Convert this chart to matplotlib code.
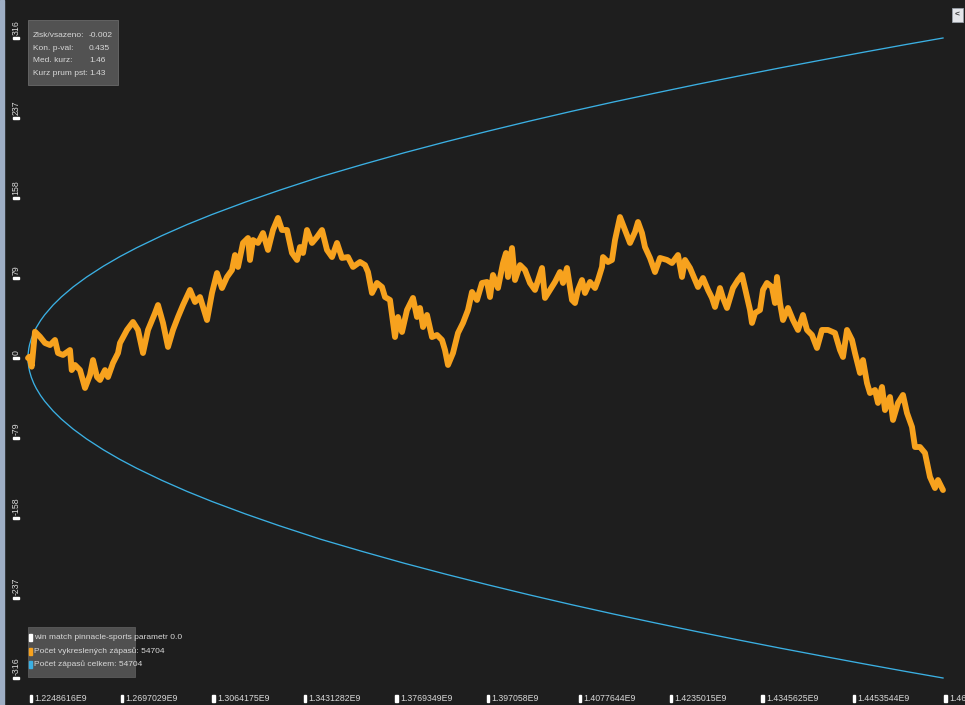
import matplotlib
matplotlib.use("Agg")
import matplotlib.pyplot as plt
from matplotlib.patches import Rectangle

# ---------------- data ----------------
n_total = 54704
profit_idx = [0, 78, 221, 418, 717, 1016, 1315, 1614, 1794, 2092, 2511, 2613, 2810, 3109, 3408,
              3707, 3886, 4125, 4305, 4603, 4783, 5082, 5381, 5500, 5919, 6277, 6576, 6875, 7174,
              7593, 7772, 8071, 8370, 8669, 8968, 9267, 9685, 9984, 10283, 10702, 11000, 11299,
              11598, 11897, 12196, 12375, 12555, 12854, 13153, 13272, 13452, 13751, 14049, 14348,
              14647, 14946, 15185, 15484, 15783, 16082, 16262, 16441, 16680, 16979, 17278, 17577,
              17876, 18175, 18474, 18772, 19131, 19430, 19849, 20148, 20327, 20566, 20865, 21164,
              21343, 21642, 21941, 22120, 22360, 22659, 23017, 23256, 23436, 23615, 23854, 24153,
              24452, 24751, 24930, 25110, 25409, 25708, 26006, 26305, 26545, 26843, 27142, 27441,
              27621, 27800, 28099, 28398, 28577, 28697, 28936, 29115, 29414, 29713, 30012, 30311,
              30730, 30909, 31208, 31507, 31806, 31985, 32224, 32523, 32702, 32882, 33121, 33300,
              33599, 33898, 34077, 34317, 34376, 34675, 34914, 35094, 35393, 35692, 35991, 36289,
              36469, 36708, 36887, 37186, 37485, 37784, 38203, 38502, 38860, 39099, 39279, 39578,
              39877, 40056, 40355, 40654, 40893, 41072, 41371, 41551, 41790, 42148, 42447, 42686,
              42866, 43165, 43284, 43464, 43763, 43942, 44181, 44480, 44659, 44779, 44958, 45137,
              45437, 45736, 46034, 46333, 46573, 46871, 47170, 47469, 47828, 48246, 48545, 48725,
              48964, 49263, 49442, 49741, 49920, 50160, 50339, 50638, 50817, 51056, 51236, 51535,
              51714, 52013, 52312, 52551, 52850, 53029, 53328, 53627, 53926, 54225, 54404, 54704]
profit_val = [0, 1.3, -8.6, 26.0, 21.0, 14.8, 12.8, 17.8, 4.9, 3.0, 7.9, -11.9, -6.9, -11.9, -29.6,
              -16.8, -2.0, -18.8, -21.7, -11.9, -18.8, -4.9, 4.9, 14.8, 27.7, 35.6, 27.7, 4.9, 27.7,
              44.4, 52.3, 34.6, 10.9, 27.7, 40.5, 52.3, 67.2, 55.3, 60.2, 37.5, 64.2, 83.9,
              69.1, 80.0, 86.9, 101.7, 89.9, 113.6, 118.5, 96.8, 116.5, 113.6, 123.4, 106.7,
              126.4, 138.3, 126.4, 126.4, 103.7, 96.8, 109.6, 103.7, 126.4, 113.6, 119.5, 126.4,
              106.7, 99.7, 113.6, 98.8, 99.7, 89.9, 94.8, 91.8, 84.9, 64.2, 74.1, 70.1,
              60.2, 57.3, 20.7, 40.5, 25.7, 47.4, 59.3, 40.5, 49.4, 30.6, 42.5, 20.7,
              22.7, 17.8, 7.9, -6.9, 4.9, 24.7, 34.6, 47.4, 65.2, 57.3, 74.1, 75.1,
              60.2, 82.0, 69.1, 93.8, 103.7, 80.0, 108.6, 77.0, 91.8, 86.9, 74.1, 67.2,
              88.9, 59.3, 67.2, 75.1, 84.9, 74.1, 88.9, 57.3, 54.3, 67.2, 77.0, 64.2,
              75.1, 69.1, 77.0, 89.9, 99.7, 94.8, 96.8, 116.5, 139.2, 126.4, 113.6, 124.4,
              134.3, 123.4, 109.6, 98.8, 84.9, 98.8, 96.8, 93.8, 101.7, 80.0, 96.8, 88.9,
              77.0, 70.1, 79.0, 67.2, 59.3, 50.4, 69.1, 59.3, 49.4, 69.1, 77.0, 82.0,
              69.1, 47.4, 34.6, 44.4, 47.4, 67.2, 74.1, 70.1, 54.3, 80.0, 54.3, 37.5,
              49.4, 37.5, 27.7, 42.5, 27.7, 22.7, 9.9, 27.7, 27.7, 24.7, 7.9, 1.0,
              27.7, 17.8, 4.9, -14.8, -2.0, -24.7, -34.6, -31.6, -44.4, -28.6, -51.4, -38.5,
              -61.2, -44.4, -36.5, -54.3, -68.1, -87.9, -87.9, -93.8, -117.5, -128.4, -120.5, -130.4]

bound_idx = [0, 10, 50, 100, 200, 350, 500, 750, 1000, 1500, 2000, 2700, 3500, 4500, 5500, 6500,
             8000, 9500, 11000, 13000, 15000, 17500, 20000, 22500, 25000, 27500, 30000, 32500,
             35000, 37500, 40000, 42500, 45000, 47500, 50000, 52500, 54704]
bound_val = [0, 4.3, 9.6, 13.5, 19.1, 25.3, 30.2, 37.0, 42.7, 52.3, 60.4, 70.2, 79.9, 90.6, 100.2,
             108.9, 120.8, 131.7, 141.7, 154.0, 165.5, 179.0, 191.1, 202.7, 213.6, 224.0, 234.0,
             243.6, 252.8, 261.6, 270.2, 278.5, 286.6, 294.4, 302.1, 309.6, 316.0]

y_ticks = [-316, -237, -158, -79, 0, 79, 158, 237, 316]
x_ticks = [i * n_total / 10 for i in range(11)]
x_tick_labels = ["1.2248616E9", "1.2697029E9", "1.3064175E9", "1.3431282E9", "1.3769349E9",
                 "1.397058E9", "1.4077644E9", "1.4235015E9", "1.4345625E9", "1.4453544E9",
                 "1.461"]

stats_labels = ["Zisk/vsazeno:", "Kon. p-val:", "Med. kurz:", "Kurz prum pst:"]
stats_values = ["-0.002", "0.435", "1.46", "1.43"]

legend_labels = ["win match pinnacle-sports parametr 0.0",
                 "Počet vykreslených zápasů: 54704",
                 "Počet zápasů celkem: 54704"]

# ---------------- style ----------------
W, H = 965, 705
BG = "#1e1e1e"
ORANGE = "#f7a21e"
BLUE = "#3bb0e3"
TXT = "#d8d8d8"
FONT = ["Liberation Sans Narrow", "Liberation Sans", "DejaVu Sans"]

fig = plt.figure(figsize=(W / 100, H / 100), dpi=100, facecolor=BG)
ax = fig.add_axes([0, 0, 1, 1])
ax.set_facecolor(BG)
ax.axis("off")

# pixel mapping: idx 0 -> px 28, n_total -> px 943 ; val 0 -> py 358, 316 -> py 38
sx = 915 / n_total
sy = 320 / 316
ax.set_xlim(-28 / sx, (W - 28) / sx)
ax.set_ylim(-(H - 358) / sy, 358 / sy)

def px(x, y):
    return (x / W, 1 - y / H)

# bounds
ax.plot(bound_idx, bound_val, color=BLUE, lw=0.95, solid_joinstyle="round")
ax.plot(bound_idx, [-v for v in bound_val], color=BLUE, lw=0.95, solid_joinstyle="round")
# profit line
ax.plot(profit_idx, profit_val, color=ORANGE, lw=4.2, solid_joinstyle="round",
        solid_capstyle="round")

# window chrome fragments
fig.patches.append(Rectangle(px(0, H), 4 / W, 1, transform=fig.transFigure,
                             color="#9eaec4", zorder=0.5))
fig.patches.append(Rectangle(px(952, 22), 11 / W, 14 / H, transform=fig.transFigure,
                             facecolor="#e4e6ea", edgecolor="#9aa0a8", lw=0.6, zorder=5))
fig.text(*px(957.5, 15), "<", color="#333333", fontsize=6, ha="center", va="center",
         family=FONT, fontweight="bold", zorder=6)

# y axis ticks (rotated labels)
for v in y_ticks:
    yp = 358 - v * sy
    fig.patches.append(Rectangle(px(13, yp + 1.2), 6 / W, 2.4 / H, transform=fig.transFigure,
                                 color="white", zorder=4))
    fig.text(*px(16, yp - 3), str(v), rotation=90, color=TXT, fontsize=6.3,
             ha="center", va="bottom", family=FONT, zorder=4)

# x axis ticks
for xv, lab in zip(x_ticks, x_tick_labels):
    xp = 28 + xv * sx + 1.5
    fig.patches.append(Rectangle(px(xp, 701.5), 2.2 / W, 7 / H, transform=fig.transFigure,
                                 color="white", zorder=4))
    fig.text(*px(xp + 4.5, 698.5), lab, color=TXT, fontsize=6.3, ha="left", va="center",
             family=FONT, zorder=4)

# stats box
fig.patches.append(Rectangle(px(28, 85), 90 / W, 65 / H, transform=fig.transFigure,
                             facecolor="#525252", edgecolor="#6a6a6a", lw=0.6, zorder=4))
for i, (lab, val) in enumerate(zip(stats_labels, stats_values)):
    yy = 35.5 + i * 12.7
    fig.text(*px(33, yy), lab, color=TXT, fontsize=6.0, ha="left", va="center",
             family=FONT, zorder=5)
    fig.text(*px(89, yy), val, color=TXT, fontsize=6.0, ha="left", va="center",
             family=FONT, zorder=5)

# legend box
fig.patches.append(Rectangle(px(28, 677), 107 / W, 50 / H, transform=fig.transFigure,
                             facecolor="#505050", edgecolor="#5c5c5c", lw=0.6, zorder=4))
for i, (lab, col) in enumerate(zip(legend_labels, ["white", ORANGE, BLUE])):
    yy = 637.5 + i * 13.5
    fig.patches.append(Rectangle(px(29, yy + 3.5), 2.5 / W, 7 / H, transform=fig.transFigure,
                                 color=col, zorder=5))
    fig.text(*px(34, yy), lab, color=TXT, fontsize=6.0, ha="left", va="center",
             family=FONT, zorder=5)

fig.savefig("out.png", dpi=100, facecolor=BG)
